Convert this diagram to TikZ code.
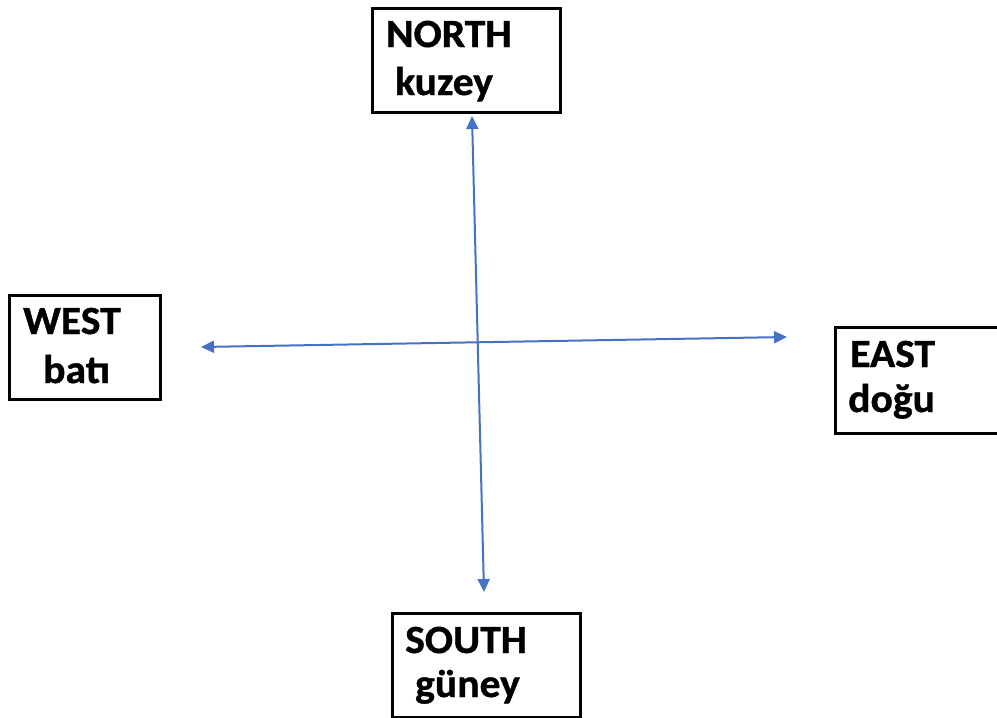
\documentclass[tikz,border=0pt]{standalone}
\usepackage{fontspec}
\setmainfont[FakeStretch=1.04,FakeBold=1.0]{Carlito}
\usetikzlibrary{arrows.meta}
\definecolor{arrowblue}{HTML}{4472C4}
\tikzset{
  box/.style={draw=black, line width=2.5pt, inner sep=0pt, anchor=north west},
  lbl/.style={anchor=base west, inner sep=0pt, font=\fontsize{40}{44}\selectfont\bfseries},
  dir/.style={draw=arrowblue, line width=2pt, {Triangle[length=13pt,width=12pt]}-{Triangle[length=13pt,width=12pt]}}
}
\begin{document}
\begin{tikzpicture}[x=1pt,y=-1pt]
\useasboundingbox (0,0) rectangle (997,718);
% boxes
\node[box, minimum width=188pt, minimum height=104pt] (nbox) at (371,7) {};
\node[box, minimum width=151pt, minimum height=104pt] (wbox) at (8,294) {};
\node[box, minimum width=163pt, minimum height=106pt] (ebox) at (834,326) {};
\node[box, minimum width=188pt, minimum height=104pt] (sbox) at (391,612) {};
% labels
\node[lbl] (n1) at (386,47) {NORTH};
\node[lbl] (n2) at (395,95) {kuzey};
\node[lbl] (w1) at (23,334) {WEST};
\node[lbl] (w2) at (43,383) {batı};
\node[lbl] (e1) at (850,367) {EAST};
\node[lbl] (e2) at (848,412) {doğu};
\node[lbl] (s1) at (405,653) {SOUTH};
\node[lbl] (s2) at (415,697) {güney};
% arrows
\coordinate (top) at (472,116);
\coordinate (bottom) at (484,592);
\coordinate (left) at (201,347);
\coordinate (right) at (787,337);
\draw[dir] (top) -- (bottom);
\draw[dir] (left) -- (right);
\end{tikzpicture}
\end{document}
